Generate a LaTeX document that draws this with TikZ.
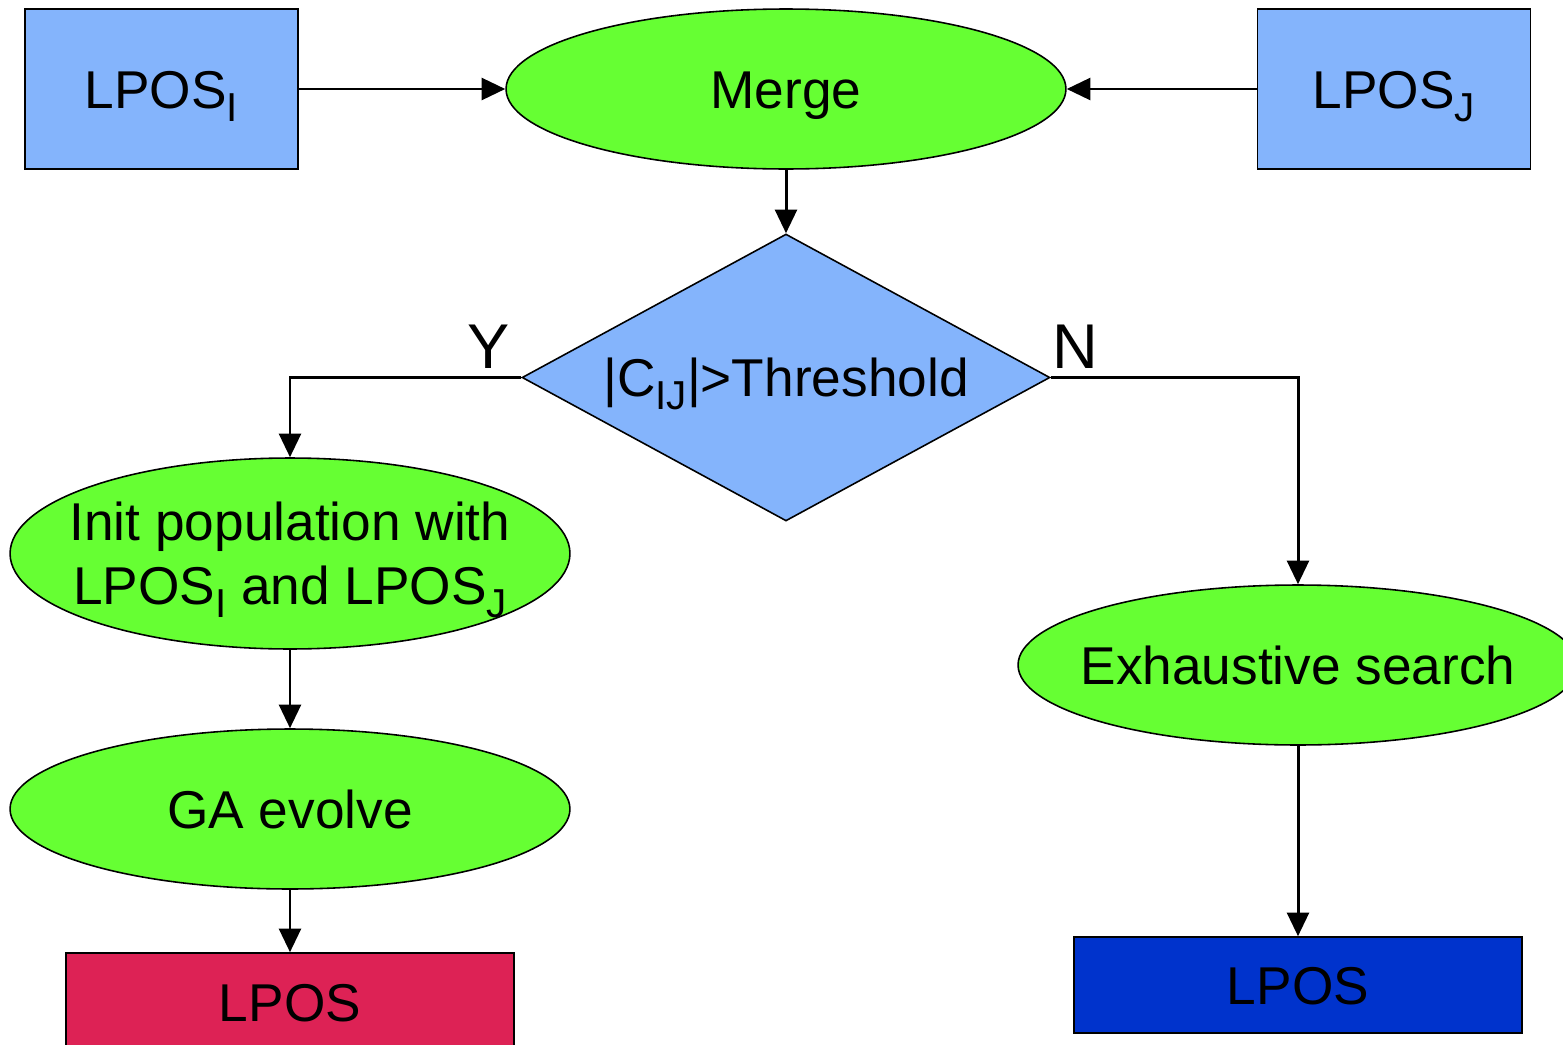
\documentclass[tikz,border=0pt]{standalone}
\usepackage{fontspec}
\setmainfont{Liberation Sans}
\usetikzlibrary{shapes.geometric,arrows.meta}

\definecolor{inblue}{RGB}{132,180,252}
\definecolor{procgreen}{RGB}{102,255,51}
\definecolor{outred}{RGB}{221,34,85}
\definecolor{outblue}{RGB}{0,51,204}

% lowered subscript letter
\newcommand\lsub[1]{\raisebox{-7.4pt}{\fontsize{23}{23}\selectfont #1}}

\tikzset{
  captext/.style={text height=21.7pt, text depth=0pt},
  inbox/.style={rectangle, draw=black, line width=0.9pt, fill=inblue, captext,
    inner sep=0pt, minimum width=5.46cm, minimum height=3.2cm},
  proc/.style={ellipse, draw=black, line width=0.9pt, fill=procgreen, captext,
    inner sep=-3cm, minimum width=11.2cm, minimum height=3.2cm},
  decision/.style={diamond, aspect=1.84, draw=black, line width=0.9pt, captext,
    fill=inblue, inner sep=0pt, minimum width=10.56cm, minimum height=5.74cm},
  outbox/.style={rectangle, draw=black, line width=0.9pt, captext,
    inner sep=0pt, minimum width=8.96cm},
  conn/.style={line width=1.7pt, -{Triangle[length=13.5pt,width=12.5pt]}},
  branch/.style={font=\fontsize{36}{36}\selectfont, anchor=base, inner sep=0pt}
}

\begin{document}
\begin{tikzpicture}[x=0.02cm, y=-0.02cm, font=\fontsize{30.3}{36.4}\selectfont]
  \useasboundingbox (0,0) rectangle (1563,1045);
  \clip (0,0) rectangle (1563,1045);

  % inputs and merge
  \node[inbox] (li) at (161.5,89) {LPOS\lsub{I}};
  \node[proc] (merge) at (786,89) {Merge};
  \node[inbox] (lj) at (1394,89) {LPOS\lsub{J}};

  % decision
  \node[decision] (dec) at (786,377.5) {|C\lsub{IJ}|>Threshold};
  \node[branch] (ylab) at (489,368) {Y};
  \node[branch] (nlab) at (1075,368) {N};

  % GA branch
  \node[proc, minimum height=3.82cm] (init) at (290,553.5) {};
  \node[align=center, inner sep=0pt] (inittext) at (290,559.5)
    {Init population with\\LPOS\lsub{I} and LPOS\lsub{J}};
  \node[proc] (ga) at (290,809) {GA evolve};
  \node[outbox, fill=outred, minimum height=1.96cm] (outga) at (290,1002) {LPOS};

  % exhaustive branch
  \node[proc] (exh) at (1298,665) {Exhaustive search};
  \node[outbox, fill=outblue, minimum height=1.92cm] (outex) at (1298,985) {LPOS};

  % connectors
  \draw[conn] (li.east) -- (merge.west);
  \draw[conn] (lj.west) -- (merge.east);
  \draw[conn] (merge.south) -- (dec.north);
  \draw[conn] (dec.west) -| (init.north);
  \draw[conn] (dec.east) -| (exh.north);
  \draw[conn] (init.south) -- (ga.north);
  \draw[conn] (ga.south) -- (outga.north);
  \draw[conn] (exh.south) -- (outex.north);
\end{tikzpicture}
\end{document}
